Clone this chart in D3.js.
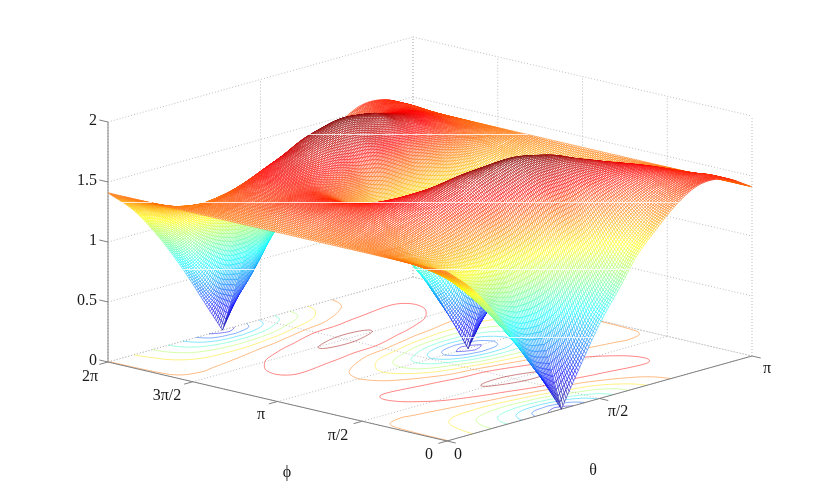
<!DOCTYPE html>
<html><head><meta charset="utf-8">
<style>html,body{margin:0;padding:0;background:#fff}svg{display:block;will-change:transform}text{font-family:"Liberation Serif",serif;font-size:16px;fill:#1a1a1a}</style>
<script src="https://cdn.jsdelivr.net/npm/d3@7"></script></head><body>
<svg id="c" width="830" height="496"></svg>
<script>
const thetaGrid=[0,16,31,47,57,67.5,77,90,103,112.5,123,133,149,164,180];
const phiGrid=[0,10,20,30,45,60,75,90,105,120,135,150,160,170,180,190,200,210,225,240,255,270,285,300,315,330,340,350,360];
const zRows=[
[1.41,1.41,1.41,1.41,1.41,1.41,1.41,1.41,1.41,1.41,1.41,1.41,1.41,1.41,1.41,1.41,1.41,1.41,1.41,1.41,1.41,1.41,1.41,1.41,1.41,1.41,1.41,1.41,1.41],
[1.19,1.20,1.22,1.24,1.29,1.34,1.40,1.45,1.48,1.51,1.52,1.53,1.54,1.54,1.54,1.54,1.54,1.53,1.52,1.51,1.48,1.45,1.40,1.34,1.29,1.24,1.22,1.20,1.19],
[0.90,0.92,0.97,1.04,1.18,1.32,1.44,1.52,1.58,1.60,1.59,1.57,1.56,1.55,1.55,1.55,1.56,1.57,1.59,1.60,1.58,1.52,1.44,1.32,1.18,1.04,0.97,0.92,0.90],
[0.53,0.59,0.71,0.88,1.13,1.35,1.52,1.63,1.67,1.65,1.59,1.51,1.46,1.43,1.41,1.43,1.46,1.51,1.59,1.65,1.67,1.63,1.52,1.35,1.13,0.88,0.71,0.59,0.53],
[0.27,0.38,0.59,0.82,1.13,1.40,1.58,1.69,1.72,1.66,1.56,1.44,1.36,1.30,1.27,1.30,1.36,1.44,1.56,1.66,1.72,1.69,1.58,1.40,1.13,0.82,0.59,0.38,0.27],
[0.00,0.28,0.56,0.83,1.18,1.45,1.65,1.77,1.76,1.66,1.51,1.33,1.22,1.14,1.11,1.14,1.22,1.33,1.51,1.66,1.76,1.77,1.65,1.45,1.18,0.83,0.56,0.28,0.00],
[0.27,0.40,0.64,0.89,1.24,1.53,1.70,1.81,1.77,1.64,1.43,1.20,1.05,0.94,0.90,0.94,1.05,1.20,1.43,1.64,1.77,1.81,1.70,1.53,1.24,0.89,0.64,0.40,0.27],
[0.62,0.69,0.86,1.06,1.36,1.62,1.76,1.84,1.76,1.62,1.36,1.06,0.86,0.69,0.62,0.69,0.86,1.06,1.36,1.62,1.76,1.84,1.76,1.62,1.36,1.06,0.86,0.69,0.62],
[0.90,0.94,1.05,1.20,1.43,1.64,1.77,1.81,1.70,1.53,1.24,0.89,0.64,0.40,0.27,0.40,0.64,0.89,1.24,1.53,1.70,1.81,1.77,1.64,1.43,1.20,1.05,0.94,0.90],
[1.11,1.14,1.22,1.33,1.51,1.66,1.76,1.77,1.65,1.45,1.18,0.83,0.56,0.28,0.00,0.28,0.56,0.83,1.18,1.45,1.65,1.77,1.76,1.66,1.51,1.33,1.22,1.14,1.11],
[1.27,1.30,1.36,1.44,1.56,1.66,1.72,1.69,1.58,1.40,1.13,0.82,0.59,0.38,0.27,0.38,0.59,0.82,1.13,1.40,1.58,1.69,1.72,1.66,1.56,1.44,1.36,1.30,1.27],
[1.41,1.43,1.46,1.51,1.59,1.65,1.67,1.63,1.52,1.35,1.13,0.88,0.71,0.59,0.53,0.59,0.71,0.88,1.13,1.35,1.52,1.63,1.67,1.65,1.59,1.51,1.46,1.43,1.41],
[1.55,1.55,1.56,1.57,1.59,1.60,1.58,1.52,1.44,1.32,1.18,1.04,0.97,0.92,0.90,0.92,0.97,1.04,1.18,1.32,1.44,1.52,1.58,1.60,1.59,1.57,1.56,1.55,1.55],
[1.54,1.54,1.54,1.53,1.52,1.51,1.48,1.45,1.40,1.34,1.29,1.24,1.22,1.20,1.19,1.20,1.22,1.24,1.29,1.34,1.40,1.45,1.48,1.51,1.52,1.53,1.54,1.54,1.54],
[1.41,1.41,1.41,1.41,1.41,1.41,1.41,1.41,1.41,1.41,1.41,1.41,1.41,1.41,1.41,1.41,1.41,1.41,1.41,1.41,1.41,1.41,1.41,1.41,1.41,1.41,1.41,1.41,1.41]
];
const zTicks=[0,0.5,1,1.5,2], zLabels=["0","0.5","1","1.5","2"];
const thetaTicks=[0,90,180], thetaLabels=["0","π/2","π"];
const phiTicks=[0,90,180,270,360], phiLabels=["0","π/2","π","3π/2","2π"];
const contourLevels=[0.2,0.4,0.6,0.8,1.0,1.2,1.4,1.6,1.8];

const O=[447,441];
const xT=d3.scaleLinear([0,180],[0,305]), yT=d3.scaleLinear([0,180],[0,-85]);
const xP=d3.scaleLinear([0,360],[0,-339]), yP=d3.scaleLinear([0,360],[0,-79]);
const yZ=d3.scaleLinear([0,2],[0,-240]);
const proj=(t,p,z)=>[O[0]+xT(t)+xP(p),O[1]+yT(t)+yP(p)+yZ(z)];
const jet=d3.scaleLinear().domain([0,.125,.375,.625,.875,1].map(v=>v*1.84))
  .range(["#00008f","#0000ff","#00ffff","#ffff00","#ff0000","#800000"]).clamp(true);

// drawing-time smoothing between table values (cusps kept at local minima)
function spline(xs,ys){
  const n=xs.length,h=[],d=[];
  for(let i=0;i<n-1;i++){h[i]=xs[i+1]-xs[i];d[i]=(ys[i+1]-ys[i])/h[i];}
  const s=(k,side)=>{
    if(k===0)return d[0]; if(k===n-1)return d[n-2];
    if(d[k-1]<0&&d[k]>0)return side<0?d[k-1]:d[k];
    return (h[k]*d[k-1]+h[k-1]*d[k])/(h[k]+h[k-1]);
  };
  return x=>{
    let i=Math.min(n-2,Math.max(0,d3.bisectRight(xs,x)-1));
    const u=(x-xs[i])/h[i],m0=s(i,1),m1=s(i+1,-1);
    const a=2*u*u*u-3*u*u+1,b=u*u*u-2*u*u+u,c=-2*u*u*u+3*u*u,e=u*u*u-u*u;
    return Math.max(0,a*ys[i]+b*h[i]*m0+c*ys[i+1]+e*h[i]*m1);
  };
}
function resample(nt,np){
  const ps=d3.range(np).map(j=>j*360/(np-1)),ts=d3.range(nt).map(i=>i*180/(nt-1));
  const rowF=zRows.map(r=>spline(phiGrid,r));
  const out=ts.map(()=>new Array(np));
  ps.forEach((p,j)=>{
    const col=spline(thetaGrid,rowF.map(f=>f(p)));
    ts.forEach((t,i)=>{out[i][j]=col(t);});
  });
  return {ts,ps,out};
}

const svg=d3.select("#c");
const gridC="#bdbdbd",axC="#808080";
const seg=(g,a,b,st,w,dash)=>g.append("line").attr("x1",a[0]).attr("y1",a[1]).attr("x2",b[0]).attr("y2",b[1])
  .attr("stroke",st).attr("stroke-width",w).attr("stroke-dasharray",dash||null);
const gGrid=svg.append("g");
const dot="1 2";
zTicks.forEach(z=>{
  seg(gGrid,proj(0,360,z),proj(180,360,z),gridC,1,dot);
  seg(gGrid,proj(180,360,z),proj(180,0,z),gridC,1,dot);
});
thetaTicks.forEach(t=>{
  seg(gGrid,proj(t,0,0),proj(t,360,0),gridC,1,dot);
  seg(gGrid,proj(t,360,0),proj(t,360,2),gridC,1,dot);
});
phiTicks.forEach(p=>{
  seg(gGrid,proj(0,p,0),proj(180,p,0),gridC,1,dot);
  seg(gGrid,proj(180,p,0),proj(180,p,2),gridC,1,dot);
});

const C=resample(121,241),nx=241,ny=121;
const flat=[];C.out.forEach(r=>r.forEach(v=>flat.push(v)));
const gC=svg.append("g").attr("fill","none");
const line=d3.line();
d3.contours().size([nx,ny]).thresholds(contourLevels)(flat).forEach(c=>{
  const parts=[];
  c.coordinates.forEach(poly=>poly.forEach(ring=>{
    let cur=[];
    ring.forEach(pt=>{
      if(pt[0]<=0||pt[0]>=nx||pt[1]<=0||pt[1]>=ny){if(cur.length>1)parts.push(cur);cur=[];}
      else cur.push(proj((pt[1]-.5)/(ny-1)*180,(pt[0]-.5)/(nx-1)*360,0));
    });
    if(cur.length>1)parts.push(cur);
  }));
  gC.selectAll(null).data(parts).join("path").attr("d",line).attr("stroke",jet(c.value)).attr("stroke-width",.9).attr("stroke-opacity",.55);
});

const gA=svg.append("g");
seg(gA,proj(0,360,0),proj(0,360,2),axC,1);
seg(gA,proj(0,0,0),proj(0,360,0),axC,1);
seg(gA,proj(0,0,0),proj(180,0,0),axC,1);
const tl=9/ Math.hypot(339,79), tu=9/Math.hypot(305,85);
zTicks.forEach((z,i)=>{const a=proj(0,360,z);seg(gA,a,[a[0]-339*tl,a[1]-79*tl],axC,1);
  gA.append("text").attr("x",a[0]-11).attr("y",a[1]+3).attr("text-anchor","end").text(zLabels[i]);});
const thetaLab=[[458,459],[618,416],[767,373]], phiLab=[[429,459],[338,440],[261,419],[167,400],[90,381]];
thetaTicks.forEach((t,i)=>{const a=proj(t,0,0);seg(gA,a,[a[0]+339*tl,a[1]+79*tl],axC,1);
  gA.append("text").attr("x",thetaLab[i][0]).attr("y",thetaLab[i][1]).attr("text-anchor","middle").text(thetaLabels[i]);});
phiTicks.forEach((p,i)=>{const a=proj(0,p,0);seg(gA,a,[a[0]-305*tu,a[1]+85*tu],axC,1);
  gA.append("text").attr("x",phiLab[i][0]).attr("y",phiLab[i][1]).attr("text-anchor","middle").text(phiLabels[i]);});
gA.append("text").attr("x",593).attr("y",475).attr("text-anchor","middle").text("θ");
gA.append("text").attr("x",287).attr("y",477).attr("text-anchor","middle").text("ϕ");

const N=201,S=resample(N,N),quads=[];
for(let i=N-2;i>=0;i--)for(let j=N-2;j>=0;j--){
  const c=[[i,j],[i+1,j],[i+1,j+1],[i,j+1]].map(([a,b])=>proj(S.ts[a],S.ps[b],S.out[a][b]));
  quads.push({c,z:S.out[i][j]});
}
svg.append("g").attr("fill","#fff").attr("stroke-width",.5).selectAll("path").data(quads).join("path")
  .attr("d",d=>line(d.c)+"Z").attr("stroke",d=>jet(d.z));

// thin light seams that cross the surface in the reference rendering
const seamY=[134.5,202.5,269.5,337.5];
const gS=svg.append("g").attr("stroke","#fff").attr("stroke-opacity",.8).attr("stroke-width",1);
seamY.forEach(y=>{
  const iv=quads.map(q=>{const ys=q.c.map(p=>p[1]),xs=q.c.map(p=>p[0]);
    return (d3.min(ys)<=y&&d3.max(ys)>=y)?[d3.min(xs),d3.max(xs)]:null;}).filter(Boolean).sort((a,b)=>a[0]-b[0]);
  const m=[];iv.forEach(r=>{const l=m[m.length-1];if(l&&r[0]<=l[1]+1)l[1]=Math.max(l[1],r[1]);else m.push(r.slice());});
  m.forEach(r=>gS.append("line").attr("x1",r[0]).attr("x2",r[1]).attr("y1",y).attr("y2",y));
});
</script></body></html>
